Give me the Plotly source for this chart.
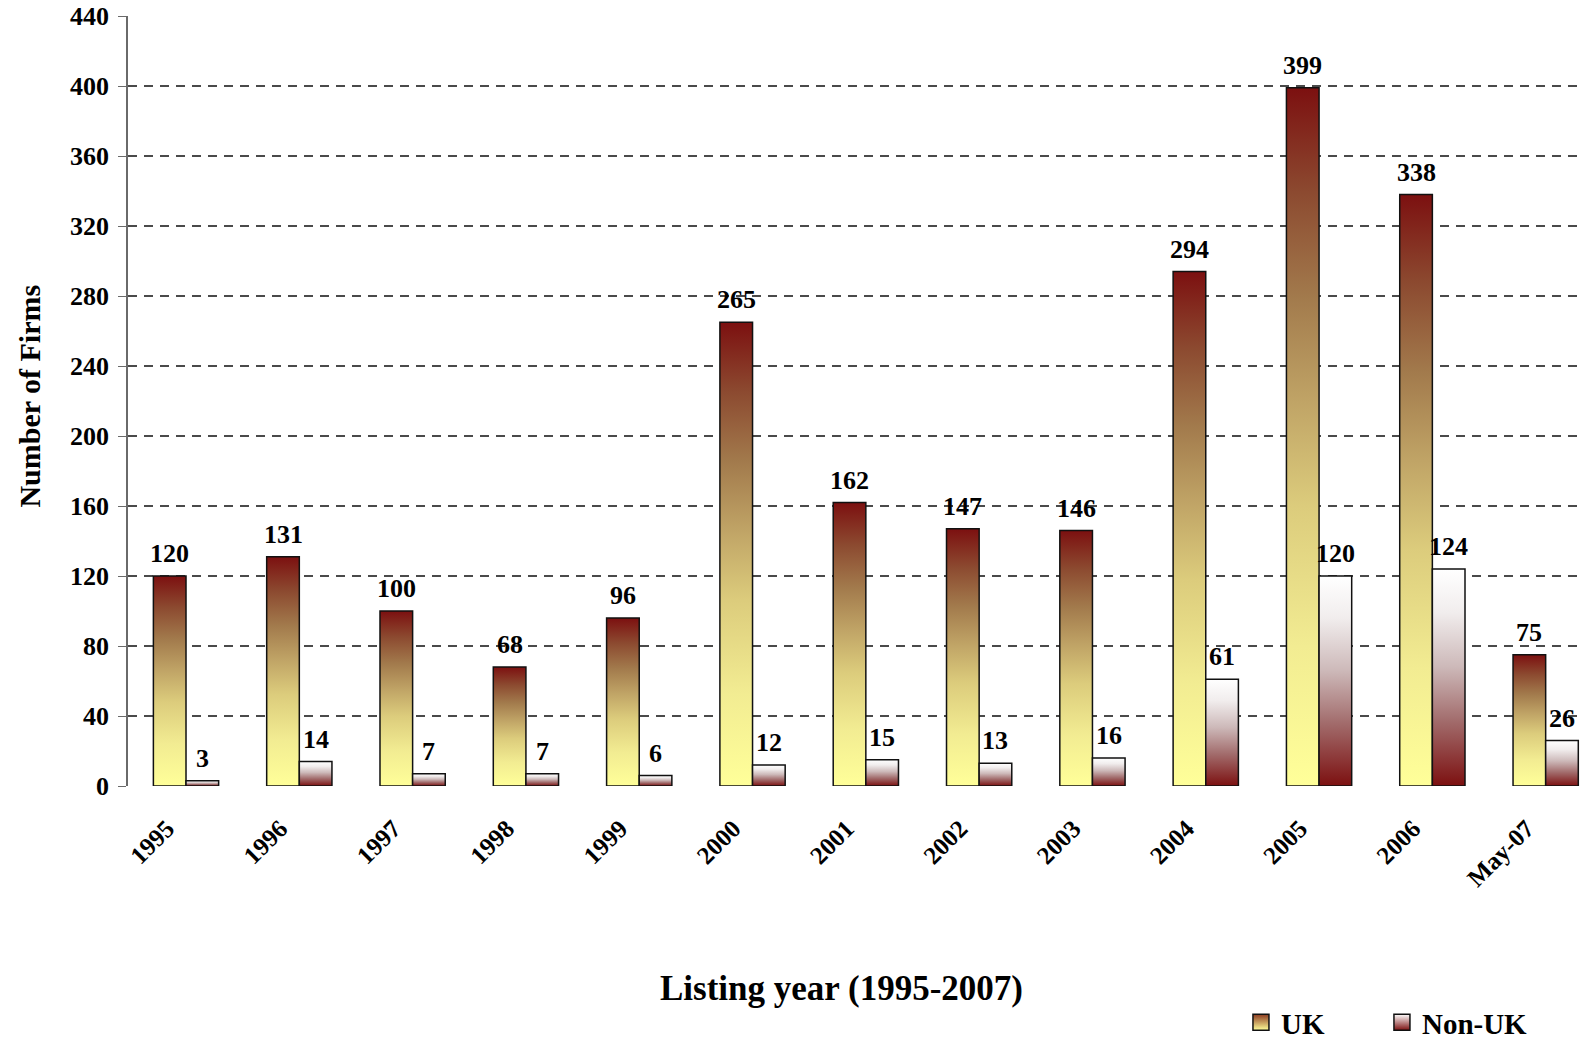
import plotly.graph_objects as go

# Listings per year, split by firm origin
categories = ["1995", "1996", "1997", "1998", "1999", "2000", "2001",
              "2002", "2003", "2004", "2005", "2006", "May-07"]
uk_firms = [120, 131, 100, 68, 96, 265, 162, 147, 146, 294, 399, 338, 75]
non_uk_firms = [3, 14, 7, 7, 6, 12, 15, 13, 16, 61, 120, 124, 26]
y_ticks = [0, 40, 80, 120, 160, 200, 240, 280, 320, 360, 400, 440]

FONT = "Liberation Serif"
BAR_W = 0.288
DARK_RED = "#7C1010"

# vertical fills: colorscale position 0 is the bar foot, 1 is the bar top
UK_SCALE = [[0.0, "#FFFF99"], [0.2, "#F2EC92"], [0.4, "#DCCC7C"],
            [0.55, "#C0A466"], [0.7, "#A27A4C"], [0.85, "#8C4A30"],
            [1.0, DARK_RED]]
NONUK_SCALE = [[0.0, DARK_RED], [0.3, "#A26C6C"], [0.55, "#CDB9B9"],
               [0.8, "#F1EDED"], [1.0, "#FFFFFF"]]

fig = go.Figure()


def add_bar(pos, value, left, scale):
    x0 = pos - BAR_W if left else pos
    x1 = x0 + BAR_W
    fig.add_trace(go.Scatter(
        x=[x0, x1, x1, x0, x0], y=[0, 0, value, value, 0],
        mode="lines", fill="toself",
        fillgradient=dict(type="vertical", colorscale=scale,
                          start=0, stop=value),
        line=dict(color="#111111", width=1.5),
        showlegend=False, hoverinfo="skip"))
    fig.add_annotation(
        x=(x0 + x1) / 2, y=value, xref="x", yref="y",
        text=str(value), showarrow=False, yanchor="bottom", yshift=6,
        font=dict(family=FONT, size=26, color="black", weight="bold"))


for i, (uk, non_uk) in enumerate(zip(uk_firms, non_uk_firms)):
    add_bar(i, uk, True, UK_SCALE)
    add_bar(i, non_uk, False, NONUK_SCALE)

# legend swatches
fig.add_trace(go.Scatter(
    x=[None], y=[None], mode="markers", name="UK", legend="legend",
    marker=dict(symbol="square", size=16, color="#8C3A20",
                gradient=dict(type="vertical", color="#FFFF99"),
                line=dict(color="#111111", width=1.5))))
fig.add_trace(go.Scatter(
    x=[None], y=[None], mode="markers", name="Non-UK", legend="legend2",
    marker=dict(symbol="square", size=16, color="#FFFFFF",
                gradient=dict(type="vertical", color=DARK_RED),
                line=dict(color="#111111", width=1.5))))

legend_style = dict(orientation="h", yanchor="middle", xanchor="left",
                    y=-0.307, bgcolor="rgba(0,0,0,0)",
                    font=dict(family=FONT, size=29, color="black",
                              weight="bold"))

fig.update_layout(
    width=1580, height=1039,
    margin=dict(l=128, r=0, t=16, b=253, autoexpand=False),
    paper_bgcolor="white", plot_bgcolor="white",
    legend=dict(x=0.7665, **legend_style),
    legend2=dict(x=0.8636, **legend_style),
    xaxis=dict(
        range=[-0.512, 12.303], tickmode="array",
        tickvals=list(range(len(categories))), ticktext=categories,
        tickangle=-45, ticks="", showgrid=False, zeroline=False,
        showline=False, automargin=False,
        ticklabelstandoff=22, ticklabelshift=-19,
        tickfont=dict(family=FONT, size=25, color="black", weight="bold")),
    yaxis=dict(
        range=[0, 440], tickmode="array", tickvals=y_ticks,
        showgrid=True, gridcolor="#4A4A4A", gridwidth=1.6,
        griddash="9px,7px", zeroline=False, automargin=False,
        showline=True, linecolor="#6A6A6A", linewidth=1.5,
        ticks="outside", ticklen=8, tickcolor="#6A6A6A", tickwidth=1.3,
        ticklabelstandoff=4,
        tickfont=dict(family=FONT, size=26, color="black", weight="bold")),
)

fig.add_annotation(
    x=0.4916, y=-0.2627, xref="paper", yref="paper",
    text="Listing year (1995-2007)", showarrow=False,
    xanchor="center", yanchor="middle",
    font=dict(family=FONT, size=35, color="black", weight="bold"))
fig.add_annotation(
    x=-0.0675, y=0.507, xref="paper", yref="paper",
    text="Number of Firms", showarrow=False, textangle=-90,
    xanchor="center", yanchor="middle",
    font=dict(family=FONT, size=30, color="black", weight="bold"))

fig.write_html("out.html")
